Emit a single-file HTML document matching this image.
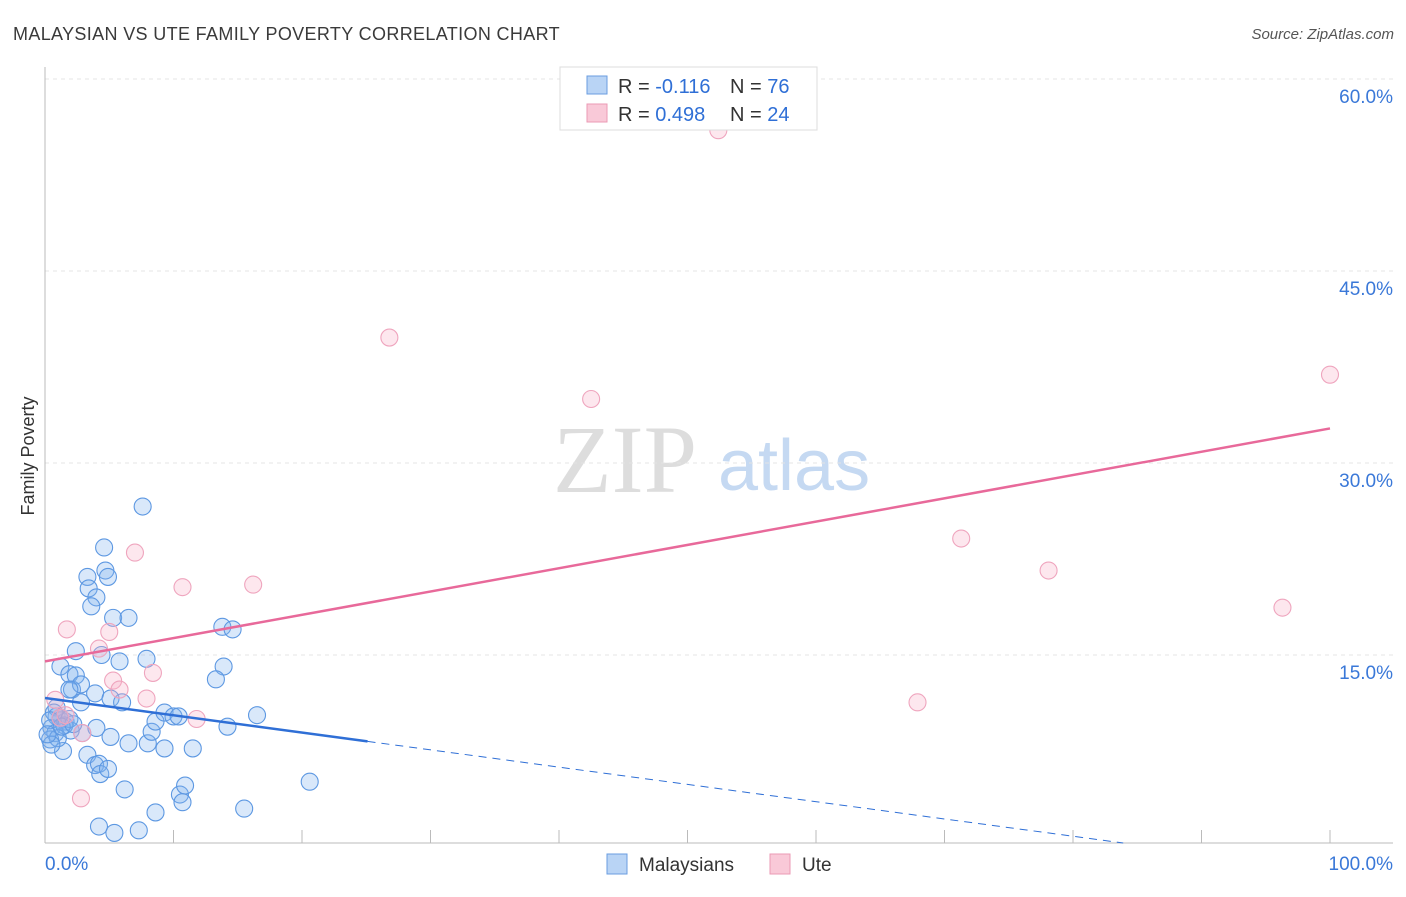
<!DOCTYPE html>
<html><head><meta charset="utf-8"><style>
body{margin:0;background:#fff;font-family:"Liberation Sans",sans-serif;}
</style></head><body>
<svg width="1406" height="892" viewBox="0 0 1406 892" xmlns="http://www.w3.org/2000/svg">
<text x="13" y="40" font-size="18" fill="#3a3a3a" letter-spacing="0.35">MALAYSIAN VS UTE FAMILY POVERTY CORRELATION CHART</text>
<text x="1394" y="39" font-size="15" fill="#555" font-style="italic" text-anchor="end">Source: ZipAtlas.com</text>
<text transform="translate(34,456) rotate(-90)" font-size="18" fill="#333" text-anchor="middle">Family Poverty</text>
<g>
<text x="553" y="492" font-size="96" font-family="Liberation Serif,serif" fill="#ddd">ZIP</text>
<text x="718" y="490" font-size="72" fill="#c5d9f2">atlas</text>
</g>
<g id="grid"></g>
<g id="axes"></g>
<g id="marks"></g>
<g>
<rect x="560" y="67" width="257" height="63" fill="#fff" stroke="#ddd"/>
<rect x="587" y="76" width="20" height="18" fill="#b9d4f5" stroke="#6a9de0"/>
<rect x="587" y="104" width="20" height="18" fill="#f9c9d8" stroke="#eb9ab4"/>
<text x="618" y="93" font-size="20" fill="#333">R = <tspan fill="#2f6fd6">-0.116</tspan></text>
<text x="730" y="93" font-size="20" fill="#333">N = <tspan fill="#2f6fd6">76</tspan></text>
<text x="618" y="121" font-size="20" fill="#333">R = <tspan fill="#2f6fd6">0.498</tspan></text>
<text x="730" y="121" font-size="20" fill="#333">N = <tspan fill="#2f6fd6">24</tspan></text>
</g>
<g>
<rect x="607" y="854" width="20" height="20" fill="#b9d4f5" stroke="#6a9de0"/>
<text x="639" y="871" font-size="19" fill="#333">Malaysians</text>
<rect x="770" y="854" width="20" height="20" fill="#f9c9d8" stroke="#eb9ab4"/>
<text x="802" y="871" font-size="19" fill="#333">Ute</text>
</g>
</svg>
<script>
const yTicks=[15,30,45,60];
const yTickLabels=["15.0%","30.0%","45.0%","60.0%"];
const xTickLabels=["0.0%","100.0%"];
const blueX=[7.6,4.6,4.7,4.9,3.3,3.4,4.0,3.6,5.3,6.5,13.8,14.6,2.4,4.4,5.8,7.9,13.9,13.3,1.2,1.9,2.4,2.1,2.8,1.9,3.9,2.8,5.1,6.0,0.9,0.9,1.2,1.6,0.5,0.8,0.4,2.0,2.9,4.0,5.1,6.5,8.0,8.3,8.6,9.3,10.0,10.4,14.2,16.5,11.5,9.3,1.4,3.3,3.9,4.2,4.3,4.9,6.2,8.6,10.5,10.9,10.7,15.5,20.6,4.2,5.4,7.3,0.7,1.2,1.5,0.4,1.0,0.5,1.9,0.2,1.3,2.2];
const blueY=[26.6,23.4,21.6,21.1,21.1,20.2,19.5,18.8,17.9,17.9,17.2,17.0,15.3,15.0,14.5,14.7,14.1,13.1,14.1,13.5,13.4,12.3,12.7,12.3,12.0,11.3,11.6,11.3,10.9,10.2,9.9,9.8,9.3,8.9,8.4,9.1,8.9,9.3,8.6,8.1,8.1,9.0,9.8,10.5,10.2,10.2,9.4,10.3,7.7,7.7,7.5,7.2,6.4,6.5,5.7,6.1,4.5,2.7,4.1,4.8,3.5,3.0,5.1,1.6,1.1,1.3,10.5,10.1,9.5,9.9,8.5,8.0,10.0,8.8,9.4,9.6];
const pinkX=[52.4,26.8,42.5,100,71.3,78.1,96.3,67.9,7.0,10.7,16.2,1.7,5.0,4.2,8.4,5.3,5.8,7.9,11.8,2.9,0.8,2.8,1.2,1.6];
const pinkY=[56.0,39.8,35.0,36.9,24.1,21.6,18.7,11.3,23.0,20.3,20.5,17.0,16.8,15.5,13.6,13.0,12.3,11.6,10.0,8.9,11.5,3.8,10.1,10.3];
const blueTrend=[11.64,-0.135];
const blueSolidEnd=25.1;
const pinkTrend=[14.5,0.182];

const NS="http://www.w3.org/2000/svg";
const xs=v=>45+v*12.85;
const ys=v=>847-v*12.8;
const axisMin=(847-843)/12.8;
function mk(parent,tag,attrs){const e=document.createElementNS(NS,tag);for(const k in attrs)e.setAttribute(k,attrs[k]);document.getElementById(parent).appendChild(e);return e;}

yTicks.forEach((t,i)=>{
  const g=mk('grid','line',{x1:45,x2:1393,y1:ys(t),y2:ys(t),stroke:'#e4e4e4','stroke-dasharray':'4,4'});
  
  
  const l=mk('grid','text',{x:1393,y:ys(t)+24,'font-size':19,fill:'#3a78d8','text-anchor':'end'});
  l.textContent=yTickLabels[i];
  
  
});
const ax=mk('axes','line',{x1:45,x2:1393,y1:843,y2:843,stroke:'#bbb'});


const ay=mk('axes','line',{x1:45,x2:45,y1:67,y2:843,stroke:'#bbb'});


for(let i=1;i<=10;i++){
  const t=mk('axes','line',{x1:xs(i*10),x2:xs(i*10),y1:830,y2:843,stroke:'#bbb'});
  
  
}
[[0,'start',45],[100,'end',1393]].forEach((d,i)=>{
  const l=mk('axes','text',{x:d[2],y:870,'font-size':19,fill:'#3a78d8','text-anchor':d[1]});
  l.textContent=xTickLabels[i];
  
  
});
blueX.forEach((x,i)=>{
  const c=mk('marks','circle',{cx:xs(x),cy:ys(blueY[i]),r:8.5,fill:'rgba(130,178,238,0.3)',stroke:'#5d98e2','stroke-width':1.1});
  
  
});
pinkX.forEach((x,i)=>{
  const c=mk('marks','circle',{cx:xs(x),cy:ys(pinkY[i]),r:8.5,fill:'rgba(247,175,200,0.3)',stroke:'#efa5be','stroke-width':1.1});
  
  
});
const bf=x=>blueTrend[0]+blueTrend[1]*x;
const xEnd=(axisMin-blueTrend[0])/blueTrend[1];
const bd=mk('marks','line',{x1:xs(blueSolidEnd),y1:ys(bf(blueSolidEnd)),x2:xs(xEnd),y2:ys(axisMin),stroke:'#2f6fd6','stroke-width':1,'stroke-dasharray':'8,6'});


const bs=mk('marks','line',{x1:xs(0),y1:ys(bf(0)),x2:xs(blueSolidEnd),y2:ys(bf(blueSolidEnd)),stroke:'#2f6fd6','stroke-width':2.5});


const pf=x=>pinkTrend[0]+pinkTrend[1]*x;
const pl=mk('marks','line',{x1:xs(0),y1:ys(pf(0)),x2:xs(100),y2:ys(pf(100)),stroke:'#e8699a','stroke-width':2.5});


</script>
</body></html>
